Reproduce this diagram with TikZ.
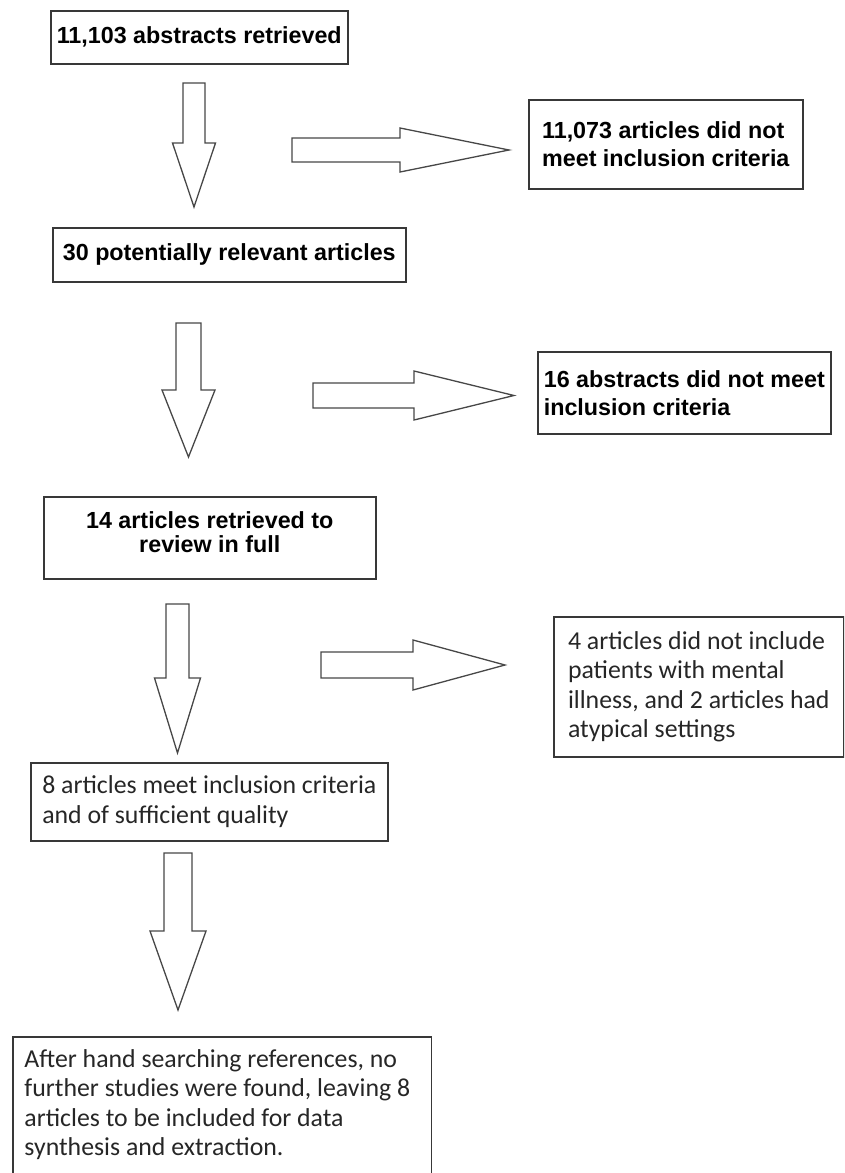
\documentclass[tikz,border=0pt]{standalone}
\usepackage{fontspec}
\setmainfont{Liberation Sans}
\newfontfamily\carlito{Carlito}

\begin{document}
\begin{tikzpicture}[x=1pt, y=-1pt,
  boxline/.style = {draw=black!78, line width=1.6pt},
  box/.style = {boxline, shape=rectangle, anchor=north west,
    inner xsep=3pt, inner ysep=0pt},
  boldbox/.style = {box, font=\bfseries\fontsize{23.3}{28}\selectfont},
  calibox/.style = {box, align=left, text=black!85,
    font=\carlito\fontsize{25.8}{29.5}\selectfont},
  arrowline/.style = {draw=black!72, line width=1.3pt},
  pics/blockarrow/.style args = {#1/#2/#3/#4}{code={
    \draw[arrowline] (-#1,0) -- (-#1,#2) -- (-#3,#2) -- (0,#2+#4)
      -- (#3,#2) -- (#1,#2) -- (#1,0) -- cycle;}}]
  \clip (0,0) rectangle (844,1173);

  \node[boldbox, minimum width=297pt, minimum height=53pt]
    (retrieved) at (50,10) {11,103 abstracts retrieved};
  \node[boldbox, align=left, minimum width=274pt, minimum height=89pt]
    (excluded1) at (528,99) {11,073 articles did not\\meet inclusion criteria};
  \node[boldbox, minimum width=353pt, minimum height=54pt]
    (relevant) at (52,227) {30 potentially relevant articles};
  \node[boldbox, align=left, minimum width=293pt, minimum height=82pt]
    (excluded2) at (537,351) {16 abstracts did not meet\\inclusion criteria};
  \node[boldbox, align=center, minimum width=332pt, minimum height=82pt,
    font=\bfseries\fontsize{23.3}{24}\selectfont]
    (fulltext) at (43,496) {14 articles retrieved to\\review in full\\[-12pt]\mbox{}};
  \node[calibox, minimum width=290pt, minimum height=140pt]
    (excluded3) at (553,616) {4 articles did not include\\patients with mental\\illness, and 2 articles had\\atypical settings};
  \node[calibox, minimum width=357pt, minimum height=78pt]
    (included) at (30,762) {8 articles meet inclusion criteria\\and of sufficient quality};
  \node[calibox, draw=none, minimum width=407pt, minimum height=134pt]
    (final) at (13,1037) {After hand searching references, no\\further studies were found, leaving 8\\articles to be included for data\\synthesis and extraction.};
  % last box runs off the page
  \draw[boxline] ([yshift=-40pt]final.south west) -- (final.north west)
    -- ([xshift=10pt]final.north east) -- ([xshift=10pt,yshift=-40pt]final.south east);

  % hollow block arrows
  \pic at (194,83) {blockarrow=11/60/21.5/64};
  \pic[rotate=90] at (292,150) {blockarrow=12/108/22/109};
  \pic at (188.5,323) {blockarrow=12.5/67/26.5/67};
  \pic[rotate=90] at (313,395.5) {blockarrow=12.5/101/24.5/100};
  \pic at (177.5,604) {blockarrow=11.5/74/23/75};
  \pic[rotate=90] at (321,665) {blockarrow=13/92/25/92};
  \pic at (178,853) {blockarrow=14/78/28/79};
\end{tikzpicture}
\end{document}
